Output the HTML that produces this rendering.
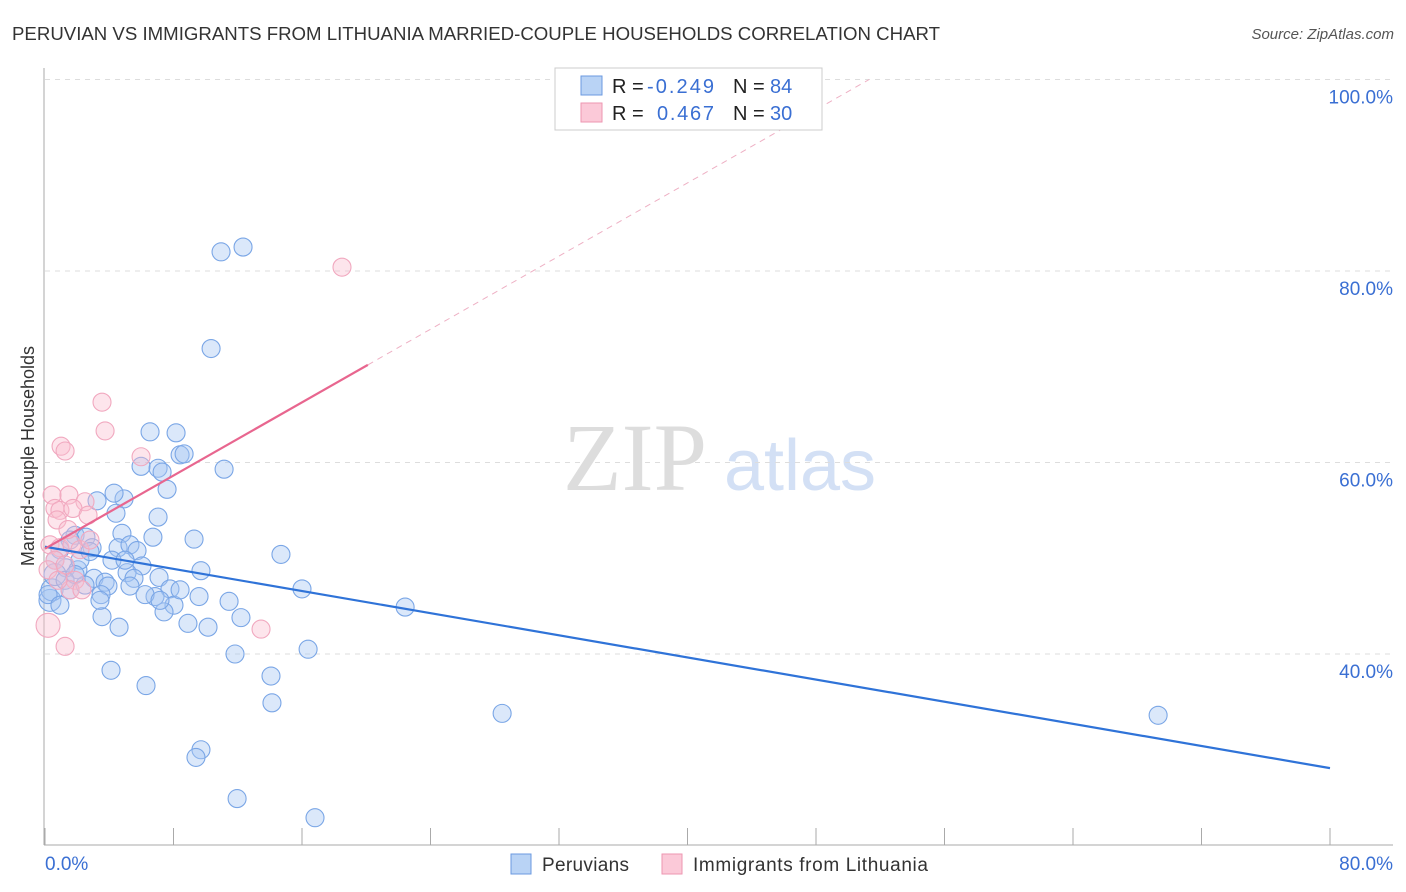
<!DOCTYPE html>
<html><head><meta charset="utf-8">
<style>
body{margin:0;background:#fff;font-family:"Liberation Sans",sans-serif;}
svg{display:block}
</style></head>
<body>
<svg id="chart" width="1406" height="892" xmlns="http://www.w3.org/2000/svg">
<text x="12" y="40" font-size="18" fill="#333" textLength="928" lengthAdjust="spacingAndGlyphs">PERUVIAN VS IMMIGRANTS FROM LITHUANIA MARRIED-COUPLE HOUSEHOLDS CORRELATION CHART</text>
<text x="1394" y="39" font-size="15" fill="#555" font-style="italic" text-anchor="end">Source: ZipAtlas.com</text>
<g>
<text x="635" y="490" font-size="96" font-family="Liberation Serif,serif" fill="#ddd" text-anchor="middle">ZIP</text>
<text x="800" y="490" font-size="72" fill="#d3e0f5" text-anchor="middle">atlas</text>
</g>
<g id="grid"></g>
<g id="axes"></g>
<g id="marks"></g>
<g id="lines"></g>
<text transform="translate(34,456) rotate(-90)" font-size="18" fill="#333" text-anchor="middle">Married-couple Households</text>
<g>
<rect x="555" y="68" width="267" height="62" fill="#fff" stroke="#ccc"/>
<rect x="581" y="76" width="21" height="19" fill="#b9d3f5" stroke="#6b9ae0"/>
<rect x="581" y="103" width="21" height="19" fill="#fbc9d8" stroke="#ee96b1"/>
<text x="612" y="93" font-size="20" fill="#222">R = <tspan x="647" fill="#3a6fd3" textLength="67">-0.249</tspan><tspan x="733">N = </tspan><tspan x="770" fill="#3a6fd3">84</tspan></text>
<text x="612" y="120" font-size="20" fill="#222">R = <tspan x="657" fill="#3a6fd3" textLength="57">0.467</tspan><tspan x="733">N = </tspan><tspan x="770" fill="#3a6fd3">30</tspan></text>
</g>
<g>
<rect x="511" y="854" width="20" height="20" fill="#b9d3f5" stroke="#6b9ae0"/>
<text x="542" y="871" font-size="19" fill="#333" textLength="87">Peruvians</text>
<rect x="662" y="854" width="20" height="20" fill="#fbc9d8" stroke="#ee96b1"/>
<text x="693" y="871" font-size="19" fill="#333" textLength="235">Immigrants from Lithuania</text>
</g>
</svg>
<script>
const blueX=[10.96,12.33,10.34,6.54,8.16,8.41,8.66,5.98,7.04,7.29,11.15,7.60,3.24,4.92,4.30,4.42,7.04,4.79,6.72,9.28,1.87,2.55,1.56,2.93,4.55,5.29,5.73,0.93,14.69,6.04,9.71,1.31,2.05,3.05,3.74,3.92,5.11,5.54,7.10,7.78,5.29,3.49,6.85,8.03,9.59,11.46,7.41,8.90,10.15,12.20,4.61,3.55,16.00,22.42,11.83,16.38,4.11,6.29,14.07,14.13,28.46,69.30,9.71,9.40,11.96,16.81,0.31,0.44,0.62,1.25,0.19,2.18,2.80,0.93,1.56,2.49,3.42,4.17,4.98,6.23,7.16,8.41,0.62,1.87];
const blueY=[82.0,82.5,71.9,63.2,63.1,60.8,60.9,59.6,59.4,59.0,59.3,57.2,56.0,56.2,56.8,54.7,54.3,52.6,52.2,52.0,52.4,52.2,51.9,51.1,51.1,51.4,50.8,50.9,50.4,49.2,48.7,49.0,48.8,47.9,47.5,47.1,48.5,47.9,48.0,46.8,47.1,46.2,46.0,45.1,46.0,45.5,44.4,43.2,42.8,43.8,42.8,43.9,46.8,44.9,40.0,40.5,38.3,36.7,37.7,34.9,33.8,33.6,30.0,29.2,24.9,22.9,45.6,46.7,48.3,47.7,46.2,49.8,50.7,45.1,46.7,47.2,45.6,49.8,49.8,46.2,45.6,46.7,49.8,48.3];
const pinkX=[3.55,3.74,1.00,1.25,5.98,0.44,1.49,2.49,0.62,0.93,1.74,2.68,0.75,18.49,13.45,1.25,0.19,0.31,0.93,1.68,2.18,0.62,1.25,1.87,1.56,2.30,0.19,0.81,2.80,1.43];
const pinkY=[66.3,63.3,61.7,61.2,60.6,56.6,56.6,55.9,55.2,55.0,55.2,54.5,54.0,80.4,42.6,40.8,43.0,51.4,51.1,51.4,50.9,49.8,49.3,47.7,46.7,46.7,48.8,47.7,51.9,53.0];
const yTicks=[40,60,80,100];
const yTickLabels=["40.0%","60.0%","80.0%","100.0%"];
const xTickLabels=["0.0%","80.0%"];
const blueTrend=[51.2,-0.289];
const pinkTrend=[51.0,0.955];
const NS="http://www.w3.org/2000/svg";
const X=v=>45+v*(1285/80);
const Y=v=>654-(v-40)*9.575;
function mk(t,a,p){const e=document.createElementNS(NS,t);for(const k in a)e.setAttribute(k,a[k]);p.appendChild(e);return e;}
const grid=document.getElementById('grid'),axes=document.getElementById('axes'),marks=document.getElementById('marks'),lines=document.getElementById('lines');
yTicks.forEach((t,i)=>{
 const l=mk('line',{x1:45,x2:1393,y1:Y(t),y2:Y(t),stroke:'#ddd','stroke-dasharray':'5,5'},grid);
 
 
 const tx=mk('text',{x:1393,y:Y(t)+24,'font-size':19,fill:'#3a6fd3','text-anchor':'end'},axes);
 tx.textContent=yTickLabels[i];
 
 
});
const ya=mk('line',{x1:44,x2:44,y1:68,y2:845,stroke:'#aaa'},axes);


const xa=mk('line',{x1:44,x2:1393,y1:845,y2:845,stroke:'#aaa'},axes);


for(let i=0;i<=10;i++){
 const t=mk('line',{x1:X(i*8),x2:X(i*8),y1:828,y2:845,stroke:'#aaa'},axes);
 
 
}
[[X(0),'start'],[1393,'end']].forEach((p,i)=>{
 const tx=mk('text',{x:p[0],y:870,'font-size':19,fill:'#3a6fd3','text-anchor':p[1]},axes);
 tx.textContent=xTickLabels[i];
 
 
});
blueX.forEach((v,i)=>{
 const c=mk('circle',{cx:X(v),cy:Y(blueY[i]),r:(i>=66&&i<=68)?11:9,fill:'rgba(165,198,242,0.4)',stroke:'#7aa6e6','stroke-width':1.1},marks);
 
 
});
pinkX.forEach((v,i)=>{
 const c=mk('circle',{cx:X(v),cy:Y(pinkY[i]),r:(i===16)?12:9,fill:'rgba(249,190,208,0.4)',stroke:'#f1a8bf','stroke-width':1.1},marks);
 
 
});
const bl=mk('line',{x1:X(0),y1:Y(blueTrend[0]),x2:X(80),y2:Y(blueTrend[0]+blueTrend[1]*80),stroke:'#2f73d8','stroke-width':2.2},lines);


const pl=mk('line',{x1:X(0),y1:Y(pinkTrend[0]),x2:X(20.1),y2:Y(pinkTrend[0]+pinkTrend[1]*20.1),stroke:'#e8668f','stroke-width':2.2},lines);


const xe=(100-pinkTrend[0])/pinkTrend[1];
const pd=mk('line',{x1:X(20.1),y1:Y(pinkTrend[0]+pinkTrend[1]*20.1),x2:X(xe),y2:Y(100),stroke:'#eeb0c4','stroke-width':1,'stroke-dasharray':'6,5'},lines);


</script>
</body></html>
